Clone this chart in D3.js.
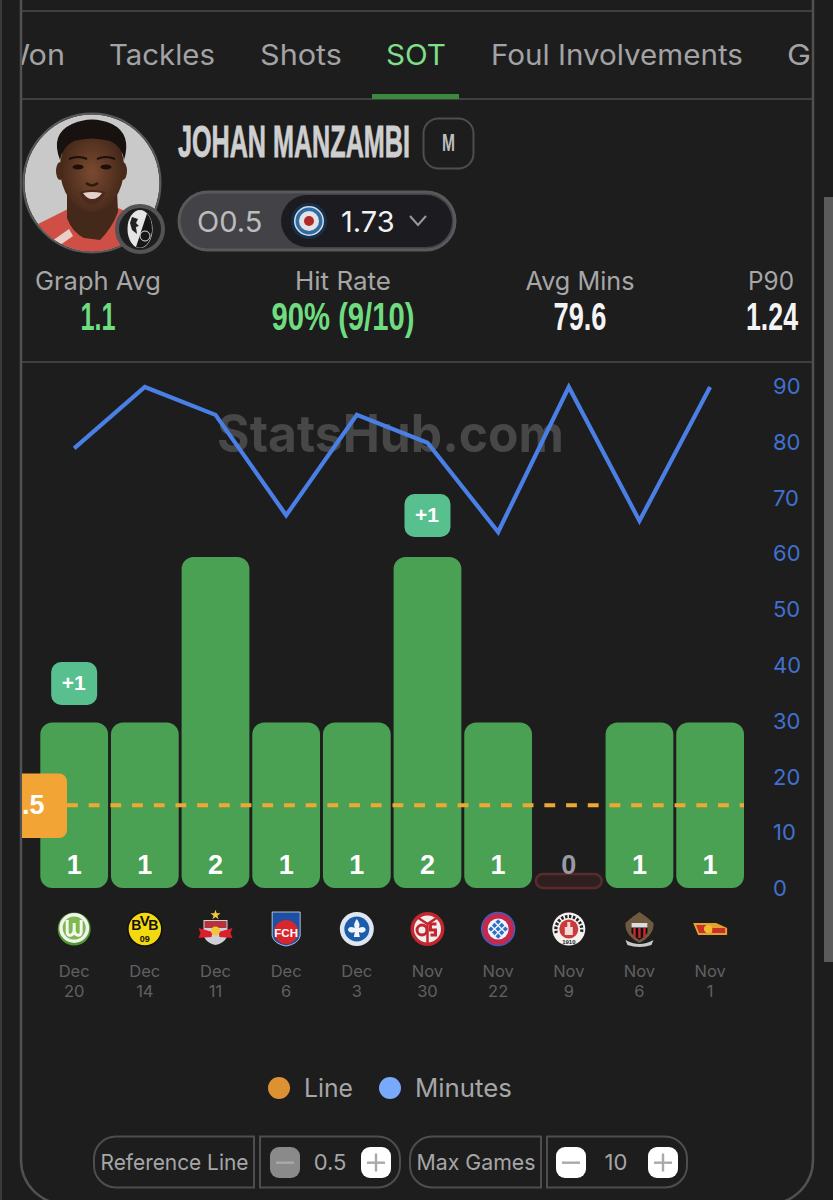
<!doctype html>
<html>

<head>
  <script src="https://cdnjs.cloudflare.com/ajax/libs/d3/7.8.5/d3.min.js"></script>
  <style>
    html, body { margin: 0; padding: 0; background: #1d1d1d; }
    svg { display: block; font-family: Inter, sans-serif; }
  </style>
</head>

<body>
  <svg id="viz" width="833" height="1200"></svg>
  <script>
    // chart values
    var dates = ["Dec 20", "Dec 14", "Dec 11", "Dec 6", "Dec 3", "Nov 30", "Nov 22", "Nov 9", "Nov 6", "Nov 1"];
    var sot = [1, 1, 2, 1, 1, 2, 1, 0, 1, 1];
    var minutes = [79, 90, 85, 67, 85, 80, 64, 90, 66, 90];
    var minuteTicks = [0, 10, 20, 30, 40, 50, 60, 70, 80, 90];
    var refLine = 0.5;
    var tabs = ["Won", "Tackles", "Shots", "SOT", "Foul Involvements", "G"];
    var statLabels = ["Graph Avg", "Hit Rate", "Avg Mins", "P90"];
    var statValues = ["1.1", "90% (9/10)", "79.6", "1.24"];

    var svg = d3.select("#viz");
    var GREY = "#a6a6a6", EDGE = "#4e4e50";

    var x = d3.scaleBand().domain(dates).range([40.3, 744]).paddingInner(0.041);
    var yBar = d3.scaleLinear().domain([0, 2]).range([888, 557]);
    var yMin = d3.scaleLinear().domain([0, 90]).range([889, 387]);
    var cx = d => x(d) + x.bandwidth() / 2;

    // scrollbar and outer frame
    svg.append("rect").attr("x", 824).attr("y", 197).attr("width", 9).attr("height", 765).attr("fill", "#5b5b5b");
    svg.append("line").attr("x1", 1).attr("x2", 1).attr("y1", 0).attr("y2", 1200).attr("stroke", "#3a3a3b").attr("stroke-width", 2);
    svg.append("path").attr("fill", "none").attr("stroke", "#515153").attr("stroke-width", 2.5)
      .attr("d", "M21,-5V1160a44,44 0 0 0 44,44H769a44,44 0 0 0 44,-44V-5");
    [11, 99, 362].forEach(y => {
      svg.append("line").attr("x1", 21).attr("x2", 813).attr("y1", y).attr("y2", y)
        .attr("stroke", "#4b4b4d").attr("stroke-width", 1.6);
    });

    svg.append("clipPath").attr("id", "panel").append("rect")
      .attr("x", 22).attr("y", 0).attr("width", 789).attr("height", 1200);

    // tabs, the first and last run under the panel edge
    var tabStarts = [0, 109, 260, 386, 491, 787];
    var tabWidths = [65, 106, 82, 60, 252, 24];
    var tabG = svg.append("g").attr("clip-path", "url(#panel)");
    tabs.forEach((d, i) => {
      fitText(tabG, tabStarts[i], 65, d, tabWidths[i], 28, d == "SOT" ? "#7ddf8a" : "#a3a3a5", "start", 400);
    });
    svg.append("rect").attr("x", 372).attr("y", 94).attr("width", 87).attr("height", 5).attr("fill", "#3a8a3e");

    drawAvatar();

    // name and position chip
    fitText(svg, 178, 157, "JOHAN MANZAMBI", 232, 45, "#cfcfcf", "start", 700, "Liberation Sans")
      .attr("stroke", "#cfcfcf").attr("stroke-width", 0.8);
    svg.append("rect").attr("x", 423.5).attr("y", 118.5).attr("width", 50).attr("height", 50).attr("rx", 15)
      .attr("fill", "none").attr("stroke", EDGE).attr("stroke-width", 2);
    fitText(svg, 448.5, 151, "M", 13, 24, "#bdbdbd", "middle", 700, "Liberation Sans");

    // odds pill
    svg.append("rect").attr("x", 179).attr("y", 192).attr("width", 276).attr("height", 58).attr("rx", 29)
      .attr("fill", "#434347").attr("stroke", "#59595c").attr("stroke-width", 3);
    svg.append("rect").attr("x", 281).attr("y", 195).attr("width", 171).attr("height", 52).attr("rx", 26).attr("fill", "#1c1c20");
    svg.append("text").attr("x", 197).attr("y", 232).attr("font-size", 29).attr("fill", "#bcbcbe").text("O0.5");
    [[18, "#16304c"], [15, "#d5dde6"], [13.5, "#2f6ca5"], [10, "#e3e3e3"], [5, "#b02a2a"]].forEach(c => {
      svg.append("circle").attr("cx", 309).attr("cy", 221).attr("r", c[0]).attr("fill", c[1]);
    });
    svg.append("text").attr("x", 341).attr("y", 232).attr("font-size", 29).attr("fill", "#f2f2f2").text("1.73");
    svg.append("path").attr("d", "M410,216l8,9l8,-9").attr("fill", "none").attr("stroke", "#9a9a9c").attr("stroke-width", 2);

    // stat row
    var statX = [98, 343, 580, 771];
    var statW = [126, 96, 109, 46];
    var valW = [35, 143, 53, 52];
    statLabels.forEach((d, i) => {
      fitText(svg, statX[i], 290, d, statW[i], 25, GREY, "middle", 400);
      fitText(svg, statX[i] + (i == 3 ? 1 : 0), 330, statValues[i], valW[i], 39,
        i < 2 ? "#6fdc80" : "#f4f4f4", "middle", 700, "Liberation Sans");
    });

    // watermark sits behind the marks
    fitText(svg, 390.5, 452, "StatsHub.com", 347, 52, "#474747", "middle", 700);

    // bars
    var barData = dates.map((d, i) => ({ date: d, value: sot[i], mins: minutes[i] }));
    svg.append("g").selectAll("path").data(barData.filter(d => d.value > 0)).enter().append("path")
      .attr("fill", "#4aa153")
      .attr("d", d => {
        var p = d3.path(), r = 12, a = x(d.date), b = a + x.bandwidth(), t = yBar(d.value), z = yBar(0);
        p.moveTo(a, z - r);
        p.lineTo(a, t + r); p.arcTo(a, t, a + r, t, r);
        p.lineTo(b - r, t); p.arcTo(b, t, b, t + r, r);
        p.lineTo(b, z - r); p.arcTo(b, z, b - r, z, r);
        p.lineTo(a + r, z); p.arcTo(a, z, a, z - r, r);
        p.closePath();
        return p.toString();
      });
    // the miss gets a small stub
    svg.append("g").selectAll("rect").data(barData.filter(d => d.value == 0)).enter().append("rect")
      .attr("x", d => x(d.date) + 1).attr("y", 874).attr("width", x.bandwidth() - 2).attr("height", 14).attr("rx", 7)
      .attr("fill", "#2f2020").attr("stroke", "#5a2a2c").attr("stroke-width", 2.5);

    // reference line with its orange tag
    svg.append("line").attr("x1", 67).attr("x2", 744).attr("y1", yBar(refLine)).attr("y2", yBar(refLine))
      .attr("stroke", "#f0a833").attr("stroke-width", 3.8).attr("stroke-dasharray", "10.8 10.9");
    svg.append("path").attr("fill", "#f2a535").attr("d", "M22,773.5H59a8,8 0 0 1 8,8V830a8,8 0 0 1 -8,8H22Z");
    svg.append("g").attr("clip-path", "url(#panel)").append("text")
      .attr("x", 44.5).attr("y", 814).attr("text-anchor", "end")
      .attr("font-size", 27).attr("font-weight", 700).attr("font-family", "Liberation Sans").attr("fill", "#fff").text(refLine);

    // value labels
    svg.append("g").selectAll("text").data(barData).enter().append("text")
      .attr("x", d => cx(d.date)).attr("y", 873.5).attr("text-anchor", "middle")
      .attr("font-size", 27).attr("font-weight", 700).attr("font-family", "Liberation Sans")
      .attr("fill", d => d.value ? "#fff" : "#989aa5").text(d => d.value);

    // +1 badges
    var badges = barData.filter(d => d.date == "Dec 20" || d.date == "Nov 30");
    var badge = svg.append("g").selectAll("g").data(badges).enter().append("g");
    badge.append("rect").attr("x", d => cx(d.date) - 23).attr("y", d => (d.value == 1 ? 662 : 494))
      .attr("width", 46).attr("height", 43).attr("rx", 10).attr("fill", "#58bf8e");
    badge.append("text").attr("x", d => cx(d.date) - 0.5).attr("y", d => (d.value == 1 ? 690 : 522))
      .attr("text-anchor", "middle").attr("font-size", 21).attr("font-weight", 700)
      .attr("font-family", "Liberation Sans").attr("fill", "#fff").text("+1");

    // minutes line
    var line = d3.line().x(d => cx(d.date)).y(d => yMin(d.mins));
    svg.append("path").datum(barData).attr("d", line).attr("fill", "none")
      .attr("stroke", "#4a7fe6").attr("stroke-width", 4.2).attr("stroke-linejoin", "miter");

    // right axis for minutes
    var axis = svg.append("g").attr("transform", "translate(773,0)")
      .call(d3.axisRight(yMin).tickValues(minuteTicks).tickSize(0).tickPadding(0));
    axis.select(".domain").remove();
    axis.selectAll("text").attr("font-size", 22).attr("font-family", "Inter").attr("fill", "#4170cf")
      .attr("dy", "0.3em");

    // date labels
    var dateG = svg.append("g").selectAll("text").data(dates).enter().append("text")
      .attr("text-anchor", "middle").attr("font-size", 16.5).attr("fill", "#606062");
    dateG.append("tspan").attr("x", cx).attr("y", 977).text(d => d.split(" ")[0]);
    dateG.append("tspan").attr("x", cx).attr("y", 997).text(d => d.split(" ")[1]);

    drawCrests();

    // legend
    svg.append("circle").attr("cx", 279).attr("cy", 1088).attr("r", 11).attr("fill", "#dc9233");
    fitText(svg, 304, 1097, "Line", 49, 25, GREY, "start", 400);
    svg.append("circle").attr("cx", 390).attr("cy", 1088).attr("r", 11).attr("fill", "#78a9fb");
    fitText(svg, 415, 1097, "Minutes", 97, 25, GREY, "start", 400);

    // bottom controls
    control(94, 160, "left", "Reference Line", 148);
    control(260, 140, "right");
    control(410, 131, "left", "Max Games", 119);
    control(547, 140, "right");
    stepper(270, 361, "0.5", 330, "#8a8a8a");
    stepper(556, 648, "10", 616, "#fff");

    // draws a text squeezed to a measured width, the app font is narrower than what is installed
    function fitText(parent, px, py, str, w, size, fill, anchor, weight, family) {
      var t = parent.append("text").attr("text-anchor", anchor)
        .attr("font-size", size).attr("font-weight", weight).attr("fill", fill).text(str);
      if (family) t.attr("font-family", family);
      var natural = t.node().getComputedTextLength();
      t.attr("transform", `translate(${px},${py}) scale(${w / natural},1)`);
      return t;
    }

    function control(px, w, round, label, labelW) {
      var r = 22, y0 = 1136.5, y1 = 1187.5, d;
      if (round == "left") d = `M${px + w},${y0}H${px + r}a${r},${r} 0 0 0 ${-r},${r}V${y1 - r}a${r},${r} 0 0 0 ${r},${r}H${px + w}Z`;
      else d = `M${px},${y0}H${px + w - r}a${r},${r} 0 0 1 ${r},${r}V${y1 - r}a${r},${r} 0 0 1 ${-r},${r}H${px}Z`;
      svg.append("path").attr("d", d).attr("fill", "none").attr("stroke", EDGE).attr("stroke-width", 2);
      if (label) fitText(svg, px + w / 2 + 0.5, 1170, label, labelW, 22, GREY, "middle", 400);
    }

    function stepper(minusX, plusX, value, valueX, minusFill) {
      svg.append("rect").attr("x", minusX).attr("y", 1147).attr("width", 30).attr("height", 31).attr("rx", 9).attr("fill", minusFill);
      svg.append("rect").attr("x", plusX).attr("y", 1147).attr("width", 30).attr("height", 31).attr("rx", 9).attr("fill", "#fff");
      svg.append("rect").attr("x", minusX + 6).attr("y", 1161.5).attr("width", 18).attr("height", 2.4).attr("fill", "#a9a9a9");
      svg.append("rect").attr("x", plusX + 6).attr("y", 1161.5).attr("width", 18).attr("height", 2.4).attr("fill", "#a9a9a9");
      svg.append("rect").attr("x", plusX + 13.8).attr("y", 1153.5).attr("width", 2.4).attr("height", 18).attr("fill", "#a9a9a9");
      svg.append("text").attr("x", valueX).attr("y", 1170).attr("text-anchor", "middle").attr("font-size", 22).attr("fill", GREY).text(value);
    }

    function drawAvatar() {
      var defs = svg.append("defs");
      defs.append("clipPath").attr("id", "face").append("ellipse").attr("cx", 92).attr("cy", 183).attr("rx", 67.5).attr("ry", 68.5);
      var skin = defs.append("radialGradient").attr("id", "skin").attr("cx", "50%").attr("cy", "55%").attr("r", "60%");
      skin.append("stop").attr("offset", "0%").attr("stop-color", "#7a4a30");
      skin.append("stop").attr("offset", "100%").attr("stop-color", "#3b2115");

      var g = svg.append("g").attr("clip-path", "url(#face)");
      g.append("rect").attr("x", 20).attr("y", 110).attr("width", 145).attr("height", 145).attr("fill", "#c9c9c9");
      // shirt
      g.append("path").attr("fill", "#cf4f46").attr("d", "M38,224L70,208L118,208L150,222L160,260H30Z");
      g.append("path").attr("fill", "#e8cfc8").attr("d", "M52,241L69,229L73,236L56,248Z");
      // neck, face, hair
      g.append("path").attr("fill", "#44281a").attr("d", "M67,190V218Q72,232 84,238L100,240Q112,228 118,212L117,190Z");
      g.append("ellipse").attr("cx", 60).attr("cy", 171).attr("rx", 4).attr("ry", 9).attr("fill", "#4a2a1b");
      g.append("ellipse").attr("cx", 123).attr("cy", 171).attr("rx", 4).attr("ry", 9).attr("fill", "#4a2a1b");
      g.append("ellipse").attr("cx", 92).attr("cy", 168).attr("rx", 32).attr("ry", 44).attr("fill", "url(#skin)");
      g.append("path").attr("fill", "#17110f").attr("d", "M60,160Q50,134 72,124Q92,115 112,124Q132,134 124,160Q122,146 110,141Q92,136 74,141Q63,146 60,160Z");
      [78, 106].forEach(ex => {
        g.append("path").attr("d", `M${ex - 9},159Q${ex},155 ${ex + 9},159`).attr("fill", "none").attr("stroke", "#1c0f0a").attr("stroke-width", 2);
        g.append("ellipse").attr("cx", ex).attr("cy", 167).attr("rx", 5.5).attr("ry", 2.5).attr("fill", "#1c0f0a");
      });
      g.append("path").attr("d", "M86,183Q92,188 98,183").attr("fill", "none").attr("stroke", "#2f1a10").attr("stroke-width", 2.5);
      g.append("path").attr("fill", "#4c2a1e").attr("d", "M79,192Q92,188 106,192Q100,205 92,205Q84,205 79,192Z");
      g.append("path").attr("fill", "#e4d2ca").attr("d", "M83,193Q92,191 102,193Q98,199 92,199Q87,199 83,193Z");
      svg.append("ellipse").attr("cx", 92).attr("cy", 183).attr("rx", 68.5).attr("ry", 69.5)
        .attr("fill", "none").attr("stroke", "#5a5a5a").attr("stroke-width", 2);

      // club badge
      svg.append("circle").attr("cx", 140).attr("cy", 229).attr("r", 23).attr("fill", "#1e1e1e").attr("stroke", "#545456").attr("stroke-width", 4);
      svg.append("ellipse").attr("cx", 140).attr("cy", 229).attr("rx", 12.5).attr("ry", 19).attr("fill", "#e6e6e6");
      svg.append("path").attr("fill", "#161616").attr("d", "M147,213.5A12.5,19 0 0 1 136,247Z");
      svg.append("path").attr("fill", "#222").attr("d", "M132,217l6,2l-2,4l3,3l-3,1l1,7l-5,-4l-2,-7Z");
      svg.append("circle").attr("cx", 145).attr("cy", 236).attr("r", 5).attr("fill", "none").attr("stroke", "#ddd").attr("stroke-width", 1);
    }

    function drawCrests() {
      var cy = 929;
      var g = dates.map(d => svg.append("g").attr("transform", `translate(${cx(d)},${cy})`));
      var tiny = (s, px, py, size, fill) => s.append("text").attr("x", px).attr("y", py).attr("text-anchor", "middle")
        .attr("font-size", size).attr("font-weight", 700).attr("font-family", "Liberation Sans").attr("fill", fill);

      // Wolfsburg
      g[0].append("circle").attr("r", 16.5).attr("fill", "#4f9a2c");
      g[0].append("circle").attr("cy", -1).attr("r", 15).attr("fill", "#f1f4ee");
      g[0].append("circle").attr("cy", -1).attr("r", 11.5).attr("fill", "#7fb850");
      g[0].append("path").attr("fill", "none").attr("stroke", "#f4f6f0").attr("stroke-width", 3)
        .attr("d", "M-7,-9V3Q-7,7 -3,6Q0,5 0,0V-6V0Q0,5 3,6Q7,7 7,3V-9");

      // Dortmund
      g[1].append("circle").attr("r", 17).attr("fill", "#f5d90f").attr("stroke", "#111").attr("stroke-width", 1.6);
      tiny(g[1], -8.5, 1, 14, "#111").text("B");
      tiny(g[1], 0, -3, 15, "#111").text("V");
      tiny(g[1], 8.5, 1, 14, "#111").text("B");
      tiny(g[1], 0, 13, 9, "#111").text("09");

      // Salzburg
      g[2].append("path").attr("fill", "#f0c93c").attr("d", d3.symbol(d3.symbolStar, 32)()).attr("transform", "translate(0,-14)");
      g[2].append("path").attr("fill", "#cfcfd6").attr("d", "M-12,-9H12V7Q8,15 0,16Q-8,15 -12,7Z");
      g[2].append("rect").attr("x", -11).attr("y", -8).attr("width", 22).attr("height", 7).attr("fill", "#b8323c");
      g[2].append("path").attr("fill", "#d9202c").attr("d", "M-3,3L-17,-1L-15,4L-17,9L-4,8Z");
      g[2].append("path").attr("fill", "#d9202c").attr("d", "M3,3L17,-1L15,4L17,9L4,8Z");
      g[2].append("circle").attr("cy", 2).attr("r", 4.5).attr("fill", "#f2c53a");

      // Heidenheim
      g[3].append("path").attr("fill", "#1f4fa3").attr("stroke", "#d7dde8").attr("stroke-width", 0.8)
        .attr("d", "M-14,-17H14V7Q12,15 0,17Q-12,15 -14,7Z");
      g[3].append("circle").attr("cy", 3).attr("r", 12).attr("fill", "#d8262c");
      tiny(g[3], 0, 8, 11.5, "#fff").text("FCH");

      // Darmstadt
      g[4].append("circle").attr("r", 17).attr("fill", "#dfe6f1");
      g[4].append("circle").attr("r", 12.5).attr("fill", "#1c5cab");
      g[4].append("path").attr("fill", "#f0f4fa")
        .attr("d", "M0,-10Q4,-5 2,-1Q8,-4 9,1Q7,5 2,3L3,8H-3L-2,3Q-7,5 -9,1Q-8,-4 -2,-1Q-4,-5 0,-10Z");

      // Mainz
      g[5].append("circle").attr("r", 17).attr("fill", "#c4262e");
      g[5].append("circle").attr("r", 13.5).attr("fill", "#eee");
      g[5].append("circle").attr("cx", -5.5).attr("cy", 1).attr("r", 5).attr("fill", "none").attr("stroke", "#c4262e").attr("stroke-width", 3);
      g[5].append("path").attr("fill", "none").attr("stroke", "#c4262e").attr("stroke-width", 3).attr("d", "M9,-5H3V1H8V6H3");
      g[5].append("path").attr("fill", "none").attr("stroke", "#c4262e").attr("stroke-width", 2.5).attr("d", "M-9,-11L0,-5L9,-11M0,-5V15");

      // Bayern
      g[6].append("circle").attr("r", 16.5).attr("fill", "#c5284a").attr("stroke", "#3a5fc0").attr("stroke-width", 1.5);
      g[6].append("circle").attr("r", 10.5).attr("fill", "#f0f4fb");
      var lozenges = d3.range(-2, 3).flatMap(i => d3.range(-2, 3).filter(j => (i + j) % 2 == 0).map(j => [i * 3.6, j * 3.6]))
        .filter(d => Math.hypot(d[0], d[1]) < 9);
      g[6].selectAll(".lozenge").data(lozenges).enter().append("path")
        .attr("fill", "#2a6fc4").attr("transform", d => `translate(${d[0]},${d[1]})`)
        .attr("d", "M0,-2.6L2.6,0L0,2.6L-2.6,0Z");

      // St. Pauli
      g[7].append("circle").attr("r", 16.5).attr("fill", "#f4f1ee");
      g[7].append("circle").attr("r", 9.5).attr("fill", "#c83a3c");
      g[7].append("path").attr("fill", "#f4d9d6").attr("d", "M-4,6V-2H-1.5V-7H1.5V-2H4V6Z");
      g[7].append("path").attr("fill", "none").attr("stroke", "#222").attr("stroke-width", 3.2)
        .attr("stroke-dasharray", "2.4 1.6").attr("d", "M-12.5,4A13,13 0 1 1 12.5,4");
      tiny(g[7], 0, 15, 6, "#222").text("1910");

      // Nice
      g[8].append("path").attr("fill", "#6f5a3e").attr("d", "M-14,-6Q-8,-12 0,-17Q8,-12 14,-6Q15,6 0,14Q-15,6 -14,-6Z");
      g[8].append("path").attr("fill", "#111").attr("d", "M-8,-6H8V4Q4,9 0,11Q-4,9 -8,4Z");
      [-5, 0, 5].forEach(n => {
        g[8].append("rect").attr("x", n - 1.2).attr("y", -1).attr("width", 2.4).attr("height", 10).attr("fill", "#c8282c");
      });
      g[8].append("rect").attr("x", -8).attr("y", -6).attr("width", 16).attr("height", 4.5).attr("fill", "#ddd");
      g[8].append("path").attr("fill", "#c9c9c6").attr("d", "M-14,11Q0,19 14,11L12,16Q0,20 -12,16Z");

      // Union Berlin
      g[9].append("path").attr("fill", "#e6a030").attr("d", "M-17,-6H6L17,-1V6H-12Z");
      g[9].append("path").attr("fill", "#c83226").attr("d", "M-14,-4H-2V4H-11Z");
      g[9].append("path").attr("fill", "#c83226").attr("d", "M2,-1H15V4H2Z");
      g[9].append("circle").attr("cx", -2).attr("r", 4.2).attr("fill", "#eebb30");
    }
  </script>
</body>

</html>
